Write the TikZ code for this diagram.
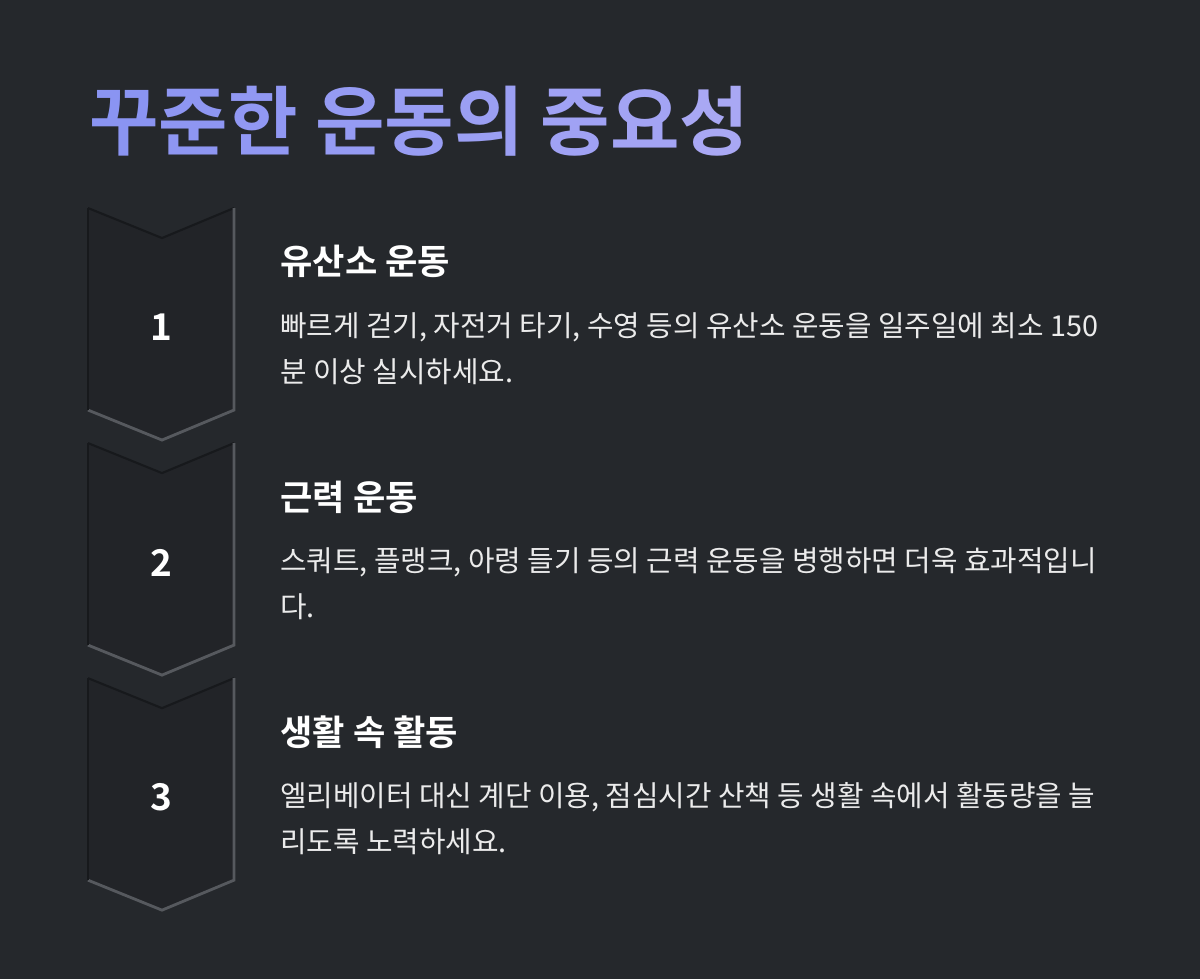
\documentclass[tikz,border=0pt]{standalone}
\usepackage{fontspec}
\usepackage{xcolor}
\newfontfamily\kr{Noto Sans CJK KR}
\newfontfamily\krb{Noto Sans CJK KR Bold}
\definecolor{bg}{HTML}{25282C}
\definecolor{chev}{HTML}{222428}
\definecolor{edgeL}{HTML}{56595E}
\definecolor{edgeD}{HTML}{17191C}
\definecolor{tA}{HTML}{8A94F2}
\definecolor{tB}{HTML}{A9A8F4}
\tikzset{
  head/.style={anchor=base west,inner sep=0,text=white,font=\krb\fontsize{20}{24}\selectfont},
  body/.style={anchor=base west,inner sep=0,text=white!92!black,font=\kr\fontsize{16.4}{20}\selectfont},
  num/.style={text=white,font=\krb\fontsize{21}{24}\selectfont},
}
\newcommand{\chevshape}[2]{%
  \fill[chev] (1.76,-#1*0.02) -- (3.24,-#1*0.02-0.6) -- (4.68,-#1*0.02) -- (4.68,-#1*0.02-4.04) -- (3.24,-#1*0.02-4.64) -- (1.76,-#1*0.02-4.04) -- cycle;
  \draw[edgeD,line width=1.2pt] (1.76,-#1*0.02) -- (3.24,-#1*0.02-0.6) -- (4.68,-#1*0.02);
  \draw[edgeL,line width=1.6pt] (4.68,-#1*0.02) -- (4.68,-#1*0.02-4.04) -- (3.24,-#1*0.02-4.64) -- (1.76,-#1*0.02-4.04);
  \draw[edgeD,line width=1pt] (1.76,-#1*0.02-4.04) -- (1.76,-#1*0.02);
  \coordinate (#2) at (3.22,-#1*0.02-2.4);
}
\begin{document}
\begin{tikzpicture}
\fill[bg] (0,0) rectangle (24,-19.58);
\useasboundingbox (0,0) rectangle (24,-19.58);
\node[anchor=base west,inner sep=0,font=\krb\fontsize{43}{46}\selectfont] (title) at (1.78,-3.0)
 {\textcolor{tA}{꾸}\textcolor{tA!88!tB}{준}\textcolor{tA!78!tB}{한} \textcolor{tA!64!tB}{운}\textcolor{tA!54!tB}{동}\textcolor{tA!44!tB}{의} \textcolor{tA!30!tB}{중}\textcolor{tA!18!tB}{요}\textcolor{tB}{성}};
\chevshape{208}{c1}
\chevshape{443}{c2}
\chevshape{678}{c3}
\node[num] (n1) at (3.22,-6.55) {1};
\node[num] (n2) at (3.22,-11.25) {2};
\node[num] (n3) at (3.22,-15.95) {3};
\node[head] (h1) at (5.6,-5.5) {유산소 운동};
\node[body] (b1a) at (5.6,-6.72) {빠르게 걷기, 자전거 타기, 수영 등의 유산소 운동을 일주일에 최소 150};
\node[body] (b1b) at (5.6,-7.64) {분 이상 실시하세요.};
\node[head] (h2) at (5.6,-10.2) {근력 운동};
\node[body] (b2a) at (5.6,-11.42) {스쿼트, 플랭크, 아령 들기 등의 근력 운동을 병행하면 더욱 효과적입니};
\node[body] (b2b) at (5.6,-12.34) {다.};
\node[head] (h3) at (5.6,-14.9) {생활 속 활동};
\node[body] (b3a) at (5.6,-16.12) {엘리베이터 대신 계단 이용, 점심시간 산책 등 생활 속에서 활동량을 늘};
\node[body] (b3b) at (5.6,-17.04) {리도록 노력하세요.};
\end{tikzpicture}
\end{document}
